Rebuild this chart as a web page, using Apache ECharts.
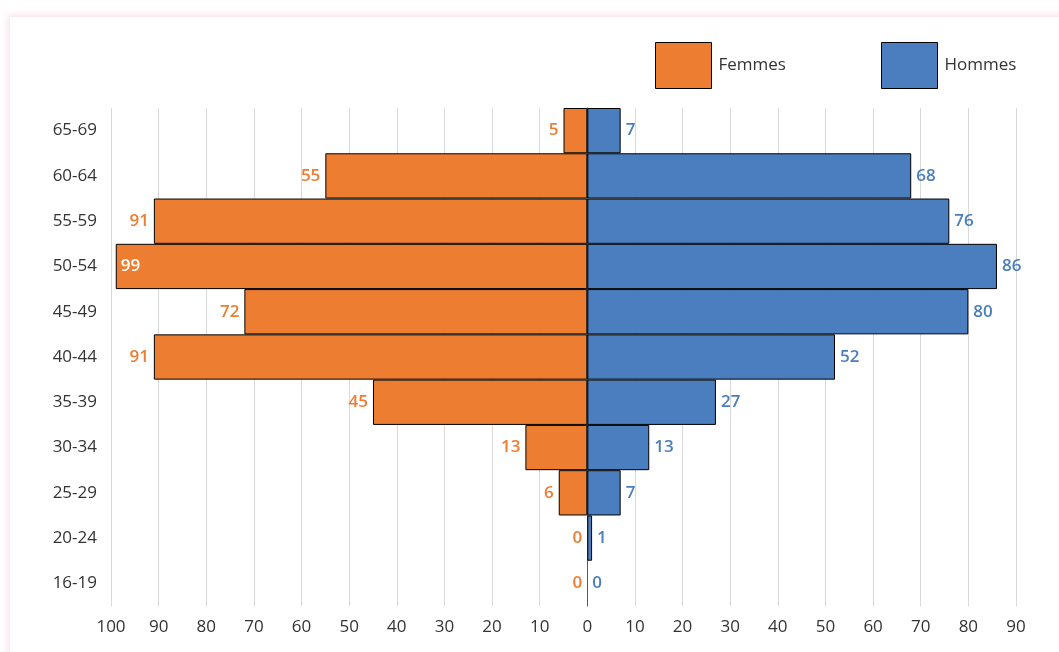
<!DOCTYPE html>
<html>
<head>
<meta charset="utf-8">
<script src="https://cdn.jsdelivr.net/npm/echarts@6/dist/echarts.min.js"></script>
<style>
html,body{margin:0;padding:0;background:#fff;width:1059px;height:652px;overflow:hidden;}
#card{position:absolute;left:10px;top:17px;width:1070px;height:660px;background:#fff;box-shadow:0 0 7px 2px rgba(240,200,212,0.55);}
#chart{position:absolute;left:0;top:0;width:1059px;height:652px;}
</style>
</head>
<body>
<div id="card"></div>
<div id="chart"></div>
<script>
const categories = ['16-19','20-24','25-29','30-34','35-39','40-44','45-49','50-54','55-59','60-64','65-69'];
const femmes = [0, 0, 6, 13, 45, 91, 72, 99, 91, 55, 5];
const hommes = [0, 1, 7, 13, 27, 52, 80, 86, 76, 68, 7];
const xTicks = [-100, 90, 10];

const ORANGE = '#ED7D31';
const BLUE = '#4A7EBE';
const FONT = '"Open Sans", Lato, sans-serif';
const maxF = Math.max(...femmes);

function item(v, neg, extra) {
  const o = {value: neg ? -v : v};
  if (v === 0) o.itemStyle = {borderWidth: 0};
  if (extra) Object.assign(o, extra);
  return o;
}

const chart = echarts.init(document.getElementById('chart'));
chart.setOption({
  animation: false,
  textStyle: {fontFamily: FONT},
  legend: [
    {left: 650, top: 37, itemWidth: 56, itemHeight: 46, icon: 'rect', data: ['Femmes'],
     itemStyle: {borderWidth: 1, borderColor: '#000'},
     textStyle: {fontSize: 17, color: '#333', padding: [0,0,0,2], fontFamily: FONT}},
    {left: 876, top: 37, itemWidth: 56, itemHeight: 46, icon: 'rect', data: ['Hommes'],
     itemStyle: {borderWidth: 1, borderColor: '#000'},
     textStyle: {fontSize: 17, color: '#333', padding: [0,0,0,2], fontFamily: FONT}}
  ],
  grid: {left: 111, right: 43, top: 108, bottom: 46, containLabel: false},
  xAxis: {
    type: 'value', min: xTicks[0], max: xTicks[1], interval: xTicks[2],
    axisLine: {show: false}, axisTick: {show: false},
    splitLine: {show: true, lineStyle: {color: '#d9d9d9', width: 1}},
    axisLabel: {formatter: v => Math.abs(v), fontSize: 17, color: '#333', margin: 13, fontFamily: FONT}
  },
  yAxis: {
    type: 'category', data: categories,
    axisLine: {show: true, lineStyle: {color: '#595959', width: 1}},
    axisTick: {show: false},
    axisLabel: {fontSize: 17, color: '#333', margin: 14, fontFamily: FONT}
  },
  series: [
    {
      name: 'Femmes', type: 'bar', stack: 'total', barCategoryGap: '0%',
      itemStyle: {color: ORANGE, borderColor: '#000', borderWidth: 1},
      label: {show: true, position: 'left', distance: 5, color: ORANGE, fontSize: 17, fontWeight: 600,
              formatter: p => Math.abs(p.value), fontFamily: FONT},
      data: femmes.map(v => item(v, true, v === maxF
        ? {label: {position: 'insideLeft', color: '#fff', distance: 5}} : null))
    },
    {
      name: 'Hommes', type: 'bar', stack: 'total', barCategoryGap: '0%',
      itemStyle: {color: BLUE, borderColor: '#000', borderWidth: 1},
      label: {show: true, position: 'right', distance: 5, color: BLUE, fontSize: 17, fontWeight: 600, fontFamily: FONT},
      data: hommes.map(v => item(v, false))
    }
  ]
});
</script>
</body>
</html>
